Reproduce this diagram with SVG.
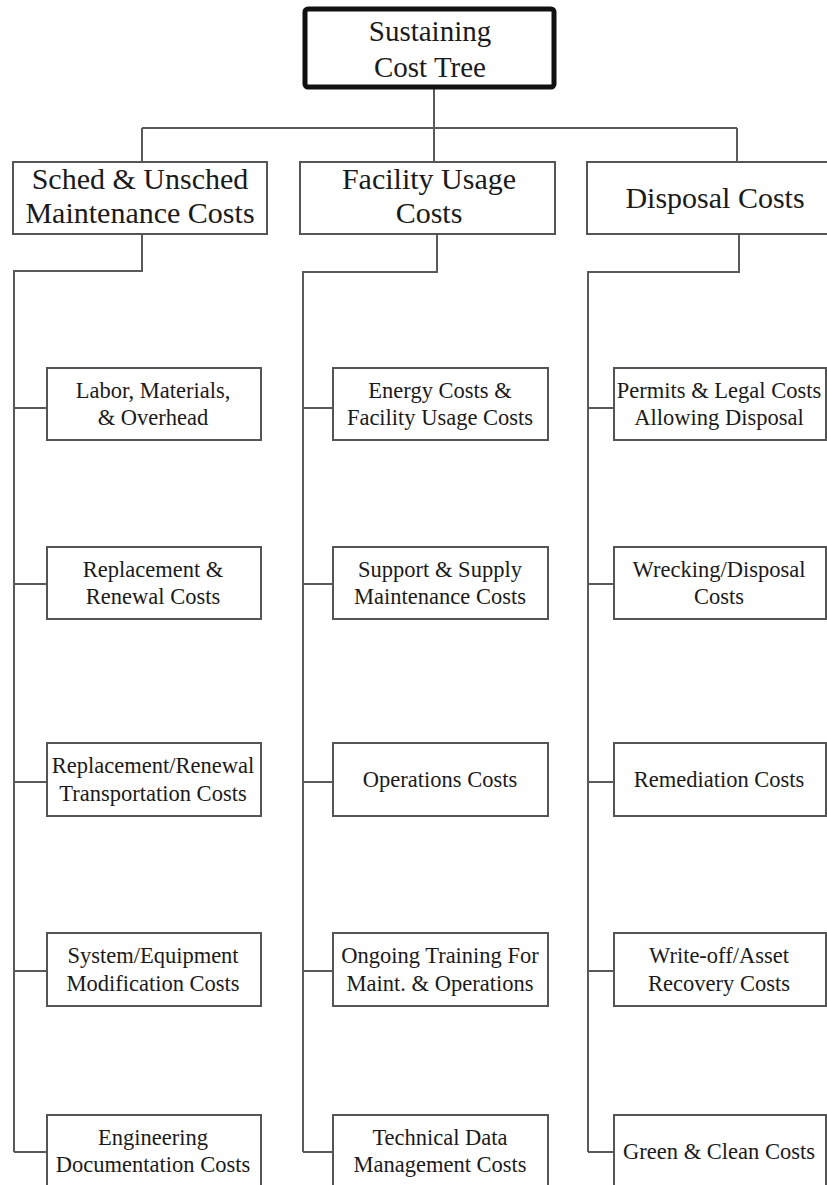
<svg xmlns="http://www.w3.org/2000/svg" width="827" height="1185" viewBox="0 0 827 1185">
  <style>
    .bg { fill: #ffffff; }
    .box { fill: #ffffff; stroke: #555555; stroke-width: 2; }
    .root { fill: #ffffff; stroke: #111111; stroke-width: 5; }
    .wire { fill: none; stroke: #5a5a5a; stroke-width: 2; }
    text { font-family: "Liberation Serif", "Times New Roman", serif; fill: #1a1a1a; text-anchor: middle; }
    .t1 { font-size: 29px; }
    .t2 { font-size: 30px; }
    .t3 { font-size: 22.5px; }
  </style>
  <rect class="bg" x="0" y="0" width="827" height="1185"/>

  <!-- connectors -->
  <g id="connectors">
    <path class="wire" d="M434 88 V128 M142 128 H737 M142 128 V162 M434 128 V162 M737 128 V162"/>
    <!-- maintenance branch -->
    <path class="wire" d="M142 234 V271 H14 V1152 M14 408 H47 M14 584 H47 M14 782 H47 M14 971 H47 M14 1152 H47"/>
    <!-- facility branch -->
    <path class="wire" d="M437 234 V272 H303 V1152 M303 408 H333 M303 584 H333 M303 782 H333 M303 971 H333 M303 1152 H333"/>
    <!-- disposal branch -->
    <path class="wire" d="M739 234 V272 H588 V1152 M588 408 H614 M588 584 H614 M588 782 H614 M588 971 H614 M588 1152 H614"/>
  </g>

  <!-- root -->
  <g id="root">
    <rect class="root" x="305" y="9" width="249" height="78" rx="3"/>
    <text class="t1" x="430" y="41">Sustaining</text>
    <text class="t1" x="430" y="77">Cost Tree</text>
  </g>

  <!-- second level -->
  <g id="maintenance">
    <rect class="box" x="13" y="162" width="254" height="72"/>
    <text class="t2" x="140" y="189">Sched &amp; Unsched</text>
    <text class="t2" x="140" y="223">Maintenance Costs</text>
  </g>
  <g id="facility">
    <rect class="box" x="300" y="162" width="255" height="72"/>
    <text class="t2" x="429" y="189">Facility Usage</text>
    <text class="t2" x="429" y="223">Costs</text>
  </g>
  <g id="disposal">
    <rect class="box" x="587" y="162" width="250" height="72"/>
    <text class="t2" x="715" y="208">Disposal Costs</text>
  </g>

  <!-- maintenance leaves -->
  <g id="labor">
    <rect class="box" x="47" y="368" width="214" height="72"/>
    <text class="t3" x="153" y="398">Labor, Materials,</text>
    <text class="t3" x="153" y="425">&amp; Overhead</text>
  </g>
  <g id="replacement">
    <rect class="box" x="47" y="547" width="214" height="72"/>
    <text class="t3" x="153" y="577">Replacement &amp;</text>
    <text class="t3" x="153" y="604">Renewal Costs</text>
  </g>
  <g id="transport">
    <rect class="box" x="47" y="743" width="214" height="73"/>
    <text class="t3" x="153" y="773">Replacement/Renewal</text>
    <text class="t3" x="153" y="801">Transportation Costs</text>
  </g>
  <g id="modification">
    <rect class="box" x="47" y="933" width="214" height="73"/>
    <text class="t3" x="153" y="963">System/Equipment</text>
    <text class="t3" x="153" y="991">Modification Costs</text>
  </g>
  <g id="engineering">
    <rect class="box" x="47" y="1115" width="214" height="90"/>
    <text class="t3" x="153" y="1145">Engineering</text>
    <text class="t3" x="153" y="1172">Documentation Costs</text>
  </g>

  <!-- facility leaves -->
  <g id="energy">
    <rect class="box" x="333" y="368" width="215" height="72"/>
    <text class="t3" x="440" y="398">Energy Costs &amp;</text>
    <text class="t3" x="440" y="425">Facility Usage Costs</text>
  </g>
  <g id="support">
    <rect class="box" x="333" y="547" width="215" height="72"/>
    <text class="t3" x="440" y="577">Support &amp; Supply</text>
    <text class="t3" x="440" y="604">Maintenance Costs</text>
  </g>
  <g id="operations">
    <rect class="box" x="333" y="743" width="215" height="73"/>
    <text class="t3" x="440" y="787">Operations Costs</text>
  </g>
  <g id="training">
    <rect class="box" x="333" y="933" width="215" height="73"/>
    <text class="t3" x="440" y="963">Ongoing Training For</text>
    <text class="t3" x="440" y="991">Maint. &amp; Operations</text>
  </g>
  <g id="techdata">
    <rect class="box" x="333" y="1115" width="215" height="90"/>
    <text class="t3" x="440" y="1145">Technical Data</text>
    <text class="t3" x="440" y="1172">Management Costs</text>
  </g>

  <!-- disposal leaves -->
  <g id="permits">
    <rect class="box" x="614" y="368" width="212" height="72"/>
    <text class="t3" x="719" y="398">Permits &amp; Legal Costs</text>
    <text class="t3" x="719" y="425">Allowing Disposal</text>
  </g>
  <g id="wrecking">
    <rect class="box" x="614" y="547" width="212" height="72"/>
    <text class="t3" x="719" y="577">Wrecking/Disposal</text>
    <text class="t3" x="719" y="604">Costs</text>
  </g>
  <g id="remediation">
    <rect class="box" x="614" y="743" width="212" height="73"/>
    <text class="t3" x="719" y="787">Remediation Costs</text>
  </g>
  <g id="writeoff">
    <rect class="box" x="614" y="933" width="212" height="73"/>
    <text class="t3" x="719" y="963">Write-off/Asset</text>
    <text class="t3" x="719" y="991">Recovery Costs</text>
  </g>
  <g id="green">
    <rect class="box" x="614" y="1115" width="212" height="90"/>
    <text class="t3" x="719" y="1159">Green &amp; Clean Costs</text>
  </g>
</svg>
